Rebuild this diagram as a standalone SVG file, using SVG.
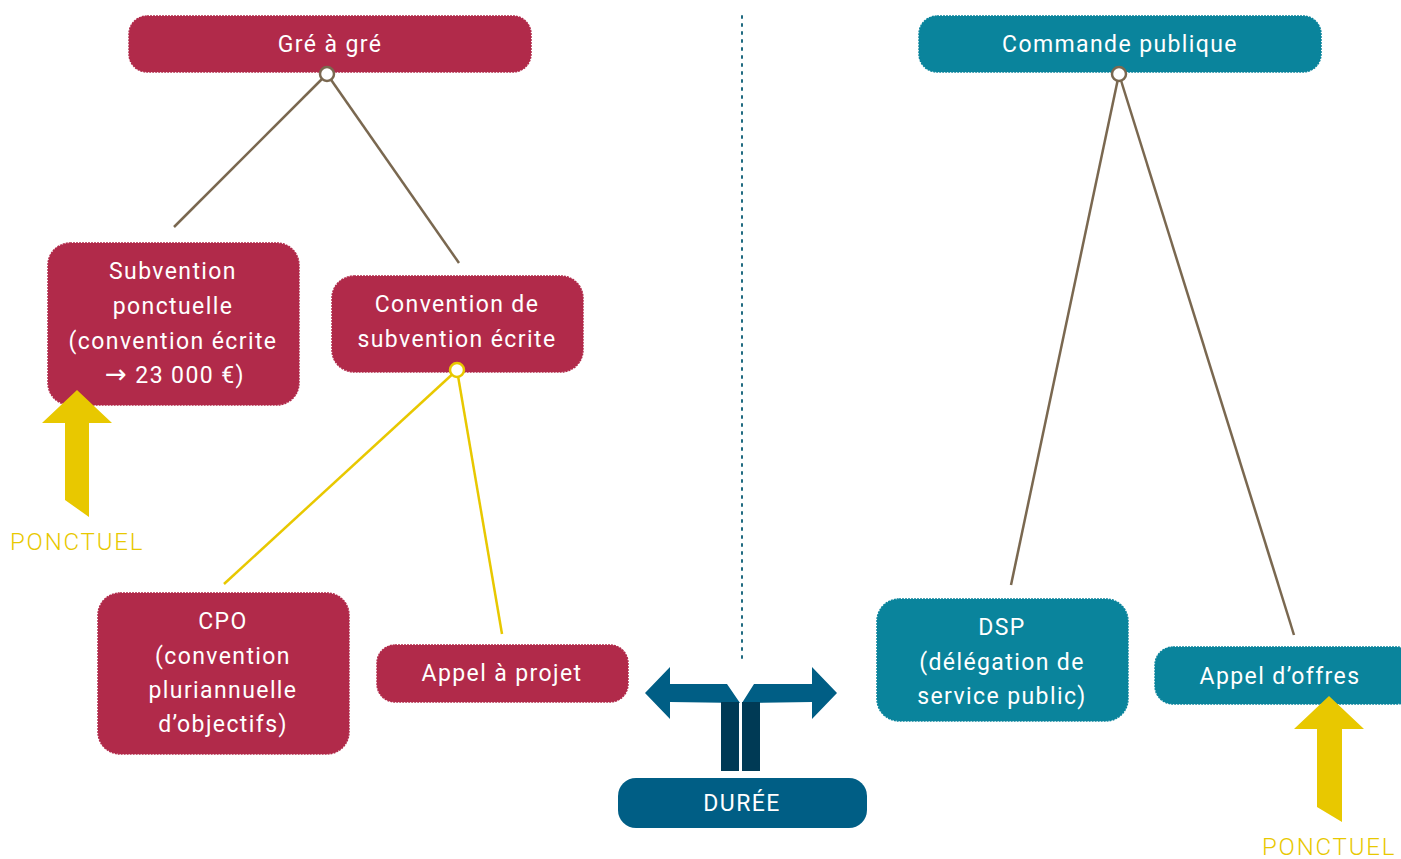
<svg xmlns="http://www.w3.org/2000/svg" width="1401" height="859" viewBox="0 0 1401 859">
<style>
.red{fill:#b12a4a;stroke:#b12a4a;stroke-width:1.5;stroke-dasharray:2 1}
.teal{fill:#0a849c;stroke:#0a849c;stroke-width:1.5;stroke-dasharray:2 1}
.t{font-family:Roboto,"Liberation Sans",sans-serif;font-size:23px;fill:#fff;text-anchor:middle;letter-spacing:1.4px}
.y{font-family:Roboto,"Liberation Sans",sans-serif;font-size:24px;fill:#e8c800;font-weight:300;letter-spacing:1.8px}
.br{stroke:#7a6850;stroke-width:2.5;fill:none}
.yl{stroke:#e8c800;stroke-width:2.5;fill:none}
.arw{fill:#e8c800}
</style>
<g id="connectors">
<line class="br" x1="327" y1="74" x2="174" y2="227"/>
<line class="br" x1="327" y1="74" x2="459" y2="263"/>
<line class="yl" x1="457" y1="370" x2="224" y2="584"/>
<line class="yl" x1="457" y1="370" x2="502" y2="634"/>
<line class="br" x1="1119" y1="74" x2="1011" y2="585"/>
<line class="br" x1="1119" y1="74" x2="1294" y2="635"/>
<line x1="742" y1="16" x2="742" y2="662" stroke="#1f6a80" stroke-width="2" stroke-dasharray="2 6" stroke-linecap="round"/>
</g>
<g id="gre">
<rect class="red" x="129" y="16" width="402" height="56" rx="18"/>
<text class="t" x="330" y="52">Gré à gré</text>
</g>
<g id="subvention">
<rect class="red" x="48" y="243" width="251" height="162" rx="22"/>
<text class="t" x="173" y="279">Subvention</text>
<text class="t" x="173" y="314">ponctuelle</text>
<text class="t" x="173" y="349">(convention écrite</text>
<text class="t" x="175" y="383"><tspan font-family="DejaVu Sans" font-size="26">→</tspan> 23 000 €)</text>
</g>
<g id="convention">
<rect class="red" x="332" y="276" width="251" height="96" rx="22"/>
<text class="t" x="457" y="312">Convention de</text>
<text class="t" x="457" y="347">subvention écrite</text>
</g>
<g id="cpo">
<rect class="red" x="98" y="593" width="251" height="161" rx="22"/>
<text class="t" x="223" y="629">CPO</text>
<text class="t" x="223" y="664">(convention</text>
<text class="t" x="223" y="698">pluriannuelle</text>
<text class="t" x="223" y="732">d’objectifs)</text>
</g>
<g id="aap">
<rect class="red" x="377" y="645" width="251" height="57" rx="18"/>
<text class="t" x="502" y="681">Appel à projet</text>
</g>
<g id="commande">
<rect class="teal" x="919" y="16" width="402" height="56" rx="18"/>
<text class="t" x="1120" y="52">Commande publique</text>
</g>
<g id="dsp">
<rect class="teal" x="877" y="599" width="251" height="122" rx="22"/>
<text class="t" x="1002" y="635">DSP</text>
<text class="t" x="1002" y="670">(délégation de</text>
<text class="t" x="1002" y="704">service public)</text>
</g>
<g id="aao">
<rect class="teal" x="1155" y="647" width="260" height="57" rx="18"/>
<text class="t" x="1280" y="684">Appel d’offres</text>
</g>
<g id="dots">
<circle cx="327" cy="74" r="7" fill="#fff" stroke="#7a6850" stroke-width="2.5"/>
<circle cx="1119" cy="74" r="7" fill="#fff" stroke="#7a6850" stroke-width="2.5"/>
<circle cx="457" cy="370" r="7" fill="#fff" stroke="#e8c800" stroke-width="2.5"/>
</g>
<g id="ponctuel-left">
<polygon class="arw" points="77,390 112,423 89,423 89,517 65,500 65,423 42,423"/>
<text class="y" x="10" y="550">PONCTUEL</text>
</g>
<g id="ponctuel-right">
<polygon class="arw" points="1329,696 1364,729 1342,729 1342,822 1317,807 1317,729 1294,729"/>
<text class="y" x="1262" y="855">PONCTUEL</text>
</g>
<g id="duree">
<polygon fill="#005e85" points="645,693 670,667 670,684 727,684 740,703 670,702 670,719"/>
<polygon fill="#005e85" points="837,693 812,667 812,684 754,684 742,703 812,702 812,719"/>
<rect x="721" y="702" width="18" height="69" fill="#003a55"/>
<rect x="742" y="702" width="18" height="69" fill="#003a55"/>
<rect x="618" y="778" width="249" height="50" rx="18" fill="#005e85"/>
<text class="t" x="742" y="811">DURÉE</text>
</g>
</svg>
